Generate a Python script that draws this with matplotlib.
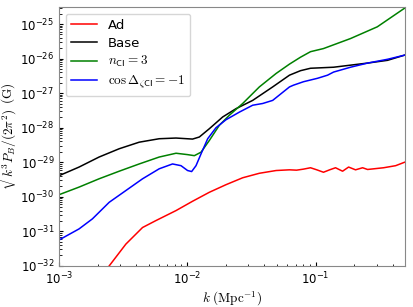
import numpy as np
import matplotlib
matplotlib.use("Agg")
import matplotlib.pyplot as plt
from matplotlib.ticker import LogLocator, NullFormatter

plt.rcParams['mathtext.fontset'] = 'cm'

# log10 k (Mpc^-1) and log10 B (G)
k_base = [-3.0, -2.844, -2.688, -2.531, -2.375, -2.219, -2.088, -1.959, -1.906, -1.828,
          -1.724, -1.62, -1.49, -1.334, -1.203, -1.117, -1.039, -0.859, -0.594, -0.438,
          -0.305]
b_base = [-29.39, -29.14, -28.85, -28.61, -28.42, -28.32, -28.30, -28.33, -28.27, -28.03,
          -27.69, -27.45, -27.21, -26.82, -26.48, -26.35, -26.28, -26.25, -26.13, -26.05,
          -25.90]

k_ncl = [-3.0, -2.844, -2.688, -2.531, -2.375, -2.219, -2.088, -1.998, -1.945, -1.893,
         -1.828, -1.75, -1.672, -1.568, -1.438, -1.307, -1.203, -1.117, -1.039, -0.938,
         -0.727, -0.518, -0.305]
b_ncl = [-29.94, -29.72, -29.48, -29.26, -29.05, -28.85, -28.74, -28.78, -28.81, -28.71,
         -28.37, -27.93, -27.64, -27.30, -26.82, -26.43, -26.16, -25.96, -25.80, -25.71,
         -25.42, -25.08, -24.54]

k_cos = [-3.0, -2.844, -2.74, -2.609, -2.479, -2.349, -2.219, -2.115, -2.049, -1.998,
         -1.966, -1.932, -1.893, -1.841, -1.776, -1.698, -1.594, -1.49, -1.412, -1.334,
         -1.203, -1.172, -1.094, -0.984, -0.906, -0.859, -0.727, -0.594, -0.438, -0.305]
b_cos = [-31.25, -30.93, -30.64, -30.16, -29.82, -29.48, -29.19, -29.05, -29.10, -29.24,
         -29.27, -29.10, -28.76, -28.32, -28.00, -27.77, -27.55, -27.35, -27.30, -27.21,
         -26.82, -26.77, -26.67, -26.57, -26.48, -26.39, -26.25, -26.13, -26.02, -25.90]

k_ad = [-2.615, -2.479, -2.349, -2.245, -2.088, -1.959, -1.828, -1.698, -1.568, -1.438,
        -1.307, -1.203, -1.148, -1.094, -1.039, -0.99, -0.938, -0.89, -0.844, -0.789,
        -0.742, -0.688, -0.633, -0.594, -0.469, -0.375, -0.305]
b_ad = [-32.03, -31.37, -30.89, -30.69, -30.40, -30.13, -29.87, -29.65, -29.45, -29.32,
        -29.24, -29.22, -29.23, -29.20, -29.16, -29.22, -29.29, -29.22, -29.16, -29.26,
        -29.14, -29.22, -29.16, -29.21, -29.16, -29.10, -29.00]

series = [
    (k_ad, b_ad, 'red', 'Ad'),
    (k_base, b_base, 'black', 'Base'),
    (k_ncl, b_ncl, 'green', r'$n_{\mathsf{CI}}=3$'),
    (k_cos, b_cos, 'blue', r'$\cos\Delta_{\zeta\mathsf{CI}}=-1$'),
]

fig = plt.figure(figsize=(4.13, 3.07), dpi=100)
ax = fig.add_axes([0.143, 0.134, 0.838, 0.843])

for k, b, c, lab in series:
    ax.plot(10 ** np.array(k), 10 ** np.array(b), color=c, lw=1.1, label=lab)

ax.set_xscale('log')
ax.set_yscale('log')
ax.set_xlim(1e-3, 0.5)
ax.set_ylim(1e-32, 3.1e-25)
ax.yaxis.set_major_locator(LogLocator(base=10, numticks=20))
ax.yaxis.set_minor_locator(LogLocator(base=10, subs=np.arange(2, 10), numticks=50))
ax.yaxis.set_minor_formatter(NullFormatter())

for s in ax.spines.values():
    s.set_color('#888888')
ax.tick_params(which='both', direction='in', labelsize=8.5)
ax.tick_params(which='major', length=3)
ax.tick_params(which='minor', length=1.8)

ax.set_xlabel(r'$k\ ({\rm Mpc}^{-1})$', fontsize=9.5, labelpad=2)
ax.set_ylabel(r'$\sqrt{k^3 P_B/(2\pi^2)}\ ({\rm G})$', fontsize=9.5, labelpad=1)

ax.legend(loc='upper left', fontsize=9.5, labelspacing=0.35)
fig.savefig('out.png', dpi=100)
